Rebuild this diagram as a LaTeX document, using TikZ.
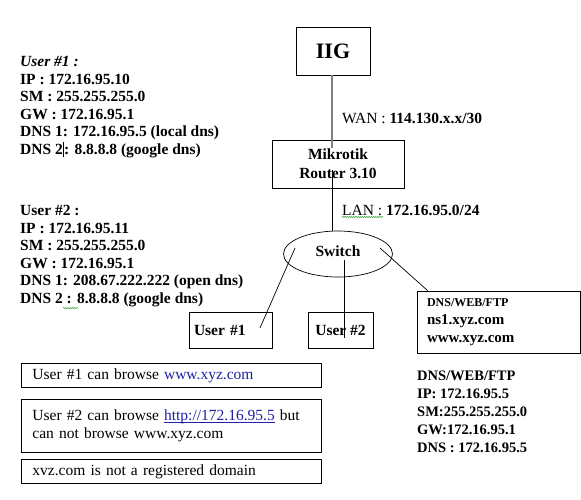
\documentclass[tikz,border=0pt]{standalone}
\usepackage{fontspec}
\setmainfont{Liberation Serif}
\usetikzlibrary{calc,shapes.geometric,decorations.pathmorphing}
\definecolor{ink}{HTML}{000000}
\definecolor{wanLine}{HTML}{7F7F7F}
\definecolor{linkBlue}{HTML}{1F1FA8}
\definecolor{spellGreen}{HTML}{2E9E2E}
\newcommand{\bodyfont}{\fontsize{15.5}{17.6}\selectfont}
\newlength{\ulinkwd}
\newcommand{\ulinktext}[1]{\settowidth{\ulinkwd}{#1}%
  \rlap{\rule[-1.8pt]{\ulinkwd}{0.6pt}}#1}
\tikzset{
  every node/.append style = {text=ink},
  % --- devices -------------------------------------------------------------
  devbox/.style    = {draw=ink, line width=0.8pt, inner sep=0pt,
                      font=\bodyfont\bfseries, align=center},
  % --- address blocks ------------------------------------------------------
  infoblk/.style   = {anchor=north west, inner sep=0pt, align=left,
                      font=\bodyfont\bfseries},
  netlbl/.style    = {anchor=west, inner sep=0pt, font=\bodyfont},
  % --- notes ---------------------------------------------------------------
  notebox/.style   = {draw=ink, line width=0.8pt, anchor=north west,
                      minimum width=300pt, inner xsep=11pt, inner ysep=0pt,
                      text width=278pt, align=left, font=\bodyfont},
  % --- links ---------------------------------------------------------------
  wanlink/.style   = {draw=wanLine, line width=1.6pt},
  lanlink/.style   = {draw=ink, line width=0.7pt},
  squig/.style     = {draw=spellGreen, line width=0.5pt,
                      decorate, decoration={snake, amplitude=0.6pt,
                      segment length=2.2pt}},
}

\begin{document}
\begin{tikzpicture}[x=1pt, y=-1pt]
\useasboundingbox (0,0) rectangle (581,499);

% ------------------------------- devices -----------------------------------
\node[devbox, minimum width=74pt, minimum height=48pt,
      font=\fontsize{22}{24}\selectfont\bfseries] (iig) at (333,51) {IIG};
\node[devbox, minimum width=132pt, minimum height=48pt,
      font=\fontsize{15.5}{19}\selectfont\bfseries]
     (router) at (338,164) {Mikrotik\\Router 3.10};
\node[draw=ink, line width=0.7pt, ellipse, minimum width=109pt,
      minimum height=46pt, inner sep=0pt] (switch) at (338,254) {};
\node[font=\bodyfont\bfseries, inner sep=0pt] (swlbl) at (338,251) {Switch};
\node[devbox, minimum width=83pt, minimum height=36pt, text width=73pt,
      align=left] (user1) at (230.5,330) {User \#1};
\node[devbox, minimum width=65pt, minimum height=36pt]
     (user2) at (340.5,330) {User \#2};
\node[devbox, minimum width=163pt, minimum height=62pt, text width=143pt,
      align=left] (dns) at (498.5,322)
     {{\fontsize{12}{14}\selectfont DNS/WEB/FTP}\\[1pt]
      {\fontsize{15}{17.5}\selectfont ns1.xyz.com}\\
      {\fontsize{15}{17.5}\selectfont www.xyz.com}};

% ---------------------------- link labels ----------------------------------
\node[netlbl] (wan) at (342,118) {WAN : \textbf{114.130.x.x/30}};
\node[netlbl] (lan) at (342,210) {LAN : \textbf{172.16.95.0/24}};

% ---------------------------- address blocks -------------------------------
\node[infoblk] (u1info) at (20,56)
     {\textit{User \#1 :}\\
      IP : 172.16.95.10\\
      SM : 255.255.255.0\\
      GW : 172.16.95.1\\
      DNS 1: 172.16.95.5 (local dns)\\
      DNS 2\rule[-3pt]{1.4pt}{15pt}: 8.8.8.8 (google dns)};
\node[infoblk] (u2info) at (20,205)
     {User \#2 :\\
      IP : 172.16.95.11\\
      SM : 255.255.255.0\\
      GW : 172.16.95.1\\
      DNS 1: 208.67.222.222 (open dns)\\
      DNS 2 : 8.8.8.8 (google dns)};
\node[infoblk, font=\fontsize{14.5}{17.9}\selectfont\bfseries]
     (srvinfo) at (417,371)
     {DNS/WEB/FTP\\
      IP: 172.16.95.5\\
      SM:255.255.255.0\\
      GW:172.16.95.1\\
      DNS : 172.16.95.5};

% -------------------------------- notes ------------------------------------
\node[notebox, minimum height=24pt] (note1) at (21,363)
     {User \#1 can browse \textcolor{linkBlue}{www.xyz.com}};
\node[notebox, minimum height=53pt] (note2) at (21,399)
     {User \#2 can browse \textcolor{linkBlue}{\ulinktext{http://172.16.95.5}} but\\
      can not browse www.xyz.com};
\node[notebox, minimum height=24pt] (note3) at (21,459)
     {xvz.com is not a registered domain};

% -------------------------------- links ------------------------------------
\draw[wanlink] ($(iig.south)+(-1,0)$) -- ($(router.north)+(-6,8)$);
\draw[lanlink] ($(router.south)+(-6,-18)$) -- ($(switch.north)+(-6,0)$);
\draw[lanlink] ($(switch)+(-43,-6)$) -- ($(user1)+(29.5,-2)$);
\draw[lanlink] ($(switch)+(6,6)$)    -- ($(user2)+(3.5,8)$);
\draw[lanlink] ($(switch)+(42,-6)$)  -- ($(dns.north west)+(11,0)$);

% ---------------------------- spell marks ----------------------------------
\draw[squig] ($(lan.west)+(0,7)$) -- ++(41,0);
\draw[squig] ($(u2info.south west)+(43,1)$) -- ++(15,0);

\end{tikzpicture}
\end{document}
